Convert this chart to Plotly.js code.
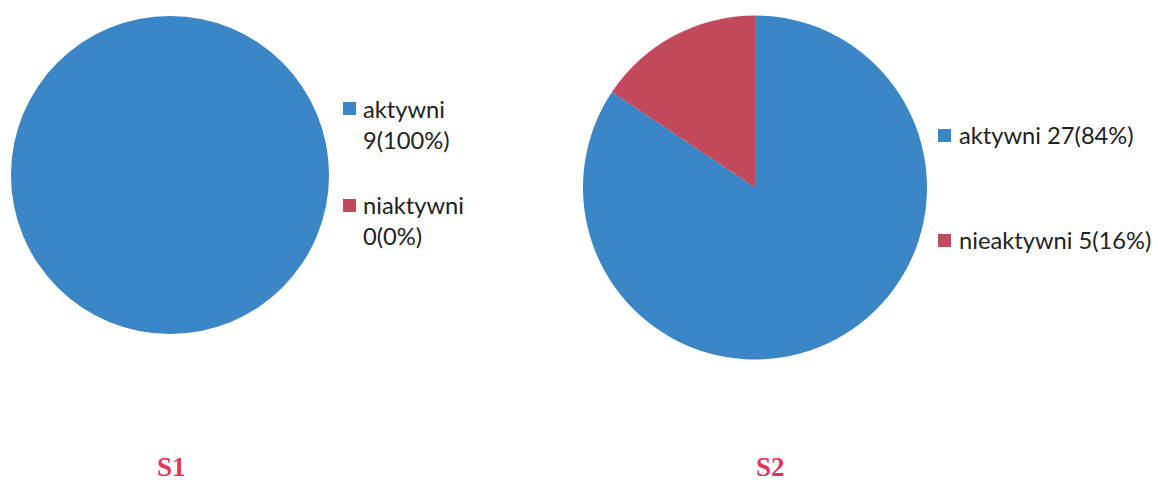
<!DOCTYPE html>
<html><head><meta charset="utf-8">
<script src="https://cdn.plot.ly/plotly-3.0.1.min.js"></script>
<style>html,body{margin:0;padding:0;background:#fff}</style>
</head><body>
<div id="chart" style="width:1158px;height:484px"></div>
<script>
const titles = ["S1", "S2"];
const labels1 = ["aktywni", "niaktywni"];
const values1 = [9, 0];
const pct1 = ["100%", "0%"];
const labels2 = ["aktywni", "nieaktywni"];
const values2 = [27, 5];
const pct2 = ["84%", "16%"];
const colors = ["#3b86c6", "#c24a5c"];

const W = 1158, H = 484;
function px(x){return x/W;}
function py(y){return 1 - y/H;}

const data = [
  {type:"pie", labels:labels1, values:values1, sort:false, direction:"clockwise",
   marker:{colors:colors, line:{width:0}}, textinfo:"none", hoverinfo:"label+value+percent",
   showlegend:false, domain:{x:[px(11),px(329)], y:[py(335),py(15)]}},
  {type:"pie", labels:labels2, values:values2, sort:false, direction:"clockwise",
   marker:{colors:colors, line:{width:0}}, textinfo:"none", hoverinfo:"label+value+percent",
   showlegend:false, domain:{x:[px(583),px(927)], y:[py(360),py(15)]}}
];

const font = {family:"Lato, 'Open Sans', sans-serif", size:23.7, color:"#222"};
const annotations = [];
const shapes = [];
function sq(x, y, c){
  shapes.push({type:"rect", xref:"paper", yref:"paper", x0:px(x), x1:px(x+13), y0:py(y+13), y1:py(y), fillcolor:c, line:{width:0}});
}
function txt(x, yMid, s){
  annotations.push({xref:"paper", yref:"paper", x:px(x), y:py(yMid), xanchor:"left", yanchor:"middle",
    text:s, showarrow:false, align:"left", font:font});
}
// legend 1 (two lines each)
const l1sq = [102, 199];
const l1mid = [[109, 140], [205, 236]];
labels1.forEach((l,i)=>{
  sq(343, l1sq[i], colors[i]);
  txt(361, l1mid[i][0], l);
  txt(361, l1mid[i][1], values1[i] + "(" + pct1[i] + ")");
});
// legend 2 (single line)
const l2sq = [129, 234];
const l2mid = [135, 240];
labels2.forEach((l,i)=>{
  sq(938, l2sq[i], colors[i]);
  txt(957, l2mid[i], l + " " + values2[i] + "(" + pct2[i] + ")");
});
// subplot titles
const tx = [171, 770];
titles.forEach((t,i)=>{
  annotations.push({xref:"paper", yref:"paper", x:px(tx[i]), y:py(467), xanchor:"center", yanchor:"middle",
    text:"<b>"+t+"</b>", showarrow:false, font:{family:"'Liberation Serif', 'DejaVu Serif', serif", size:27, color:"#e5335b"}});
});

const layout = {width:W, height:H, margin:{l:0,r:0,t:0,b:0}, paper_bgcolor:"#fff",
  showlegend:false, annotations:annotations, shapes:shapes};
Plotly.newPlot("chart", data, layout, {displayModeBar:false, staticPlot:true});
</script>
</body></html>
